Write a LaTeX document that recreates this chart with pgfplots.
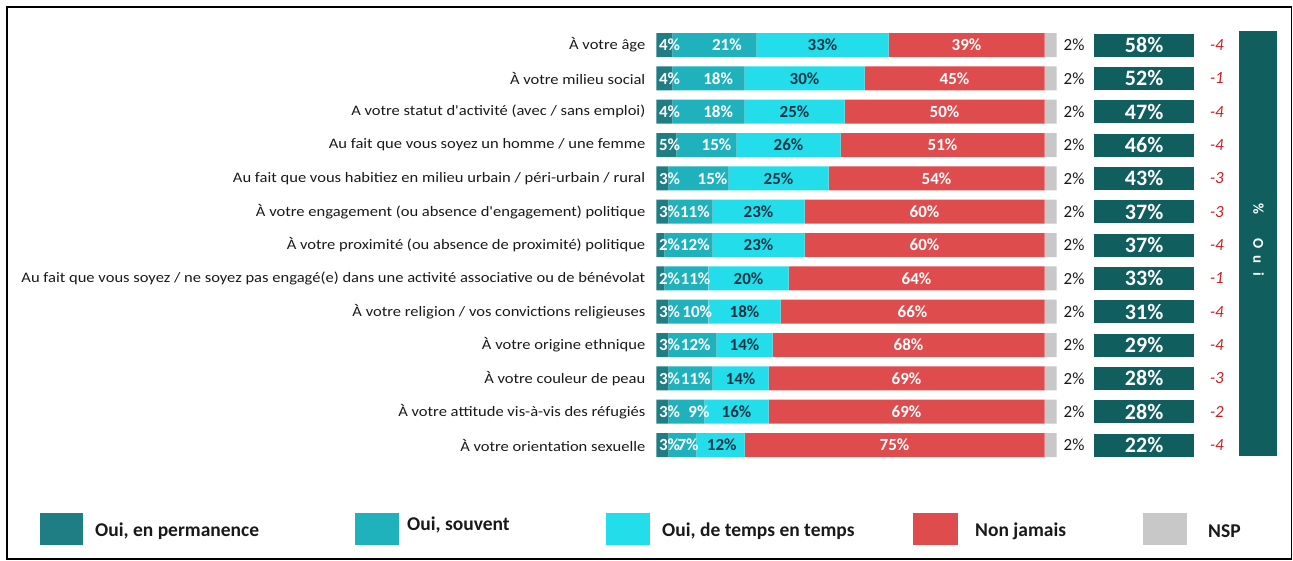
\documentclass[border=0pt]{standalone}
\usepackage{fontspec}
\setmainfont{Carlito}
\newfontfamily\labfont[FakeStretch=1.14]{Carlito}
\usepackage{pgfplots}
\usepackage{pgfplotstable}
\pgfplotsset{compat=1.18}
\definecolor{c1}{RGB}{30,126,131}
\definecolor{c2}{RGB}{32,178,188}
\definecolor{c3}{RGB}{36,221,234}
\definecolor{c4}{RGB}{222,76,78}
\definecolor{c5}{RGB}{200,200,200}
\definecolor{boxc}{RGB}{16,94,94}
\definecolor{navy}{RGB}{22,52,68}
\definecolor{redc}{RGB}{200,30,36}
\definecolor{labc}{RGB}{25,25,25}

% bar data: permanent, souvent, de temps en temps, non jamais, NSP
\pgfplotstableread{
y p s t n g
1 4 21 33 39 3
2 4 18 30 45 3
3 4 18 25 50 3
4 5 15 26 51 3
5 3 15 25 54 3
6 3 11 23 60 3
7 2 12 23 60 3
8 2 11 20 64 3
9 3 10 18 66 3
10 3 12 14 68 3
11 3 11 14 69 3
12 3 9 16 69 3
13 3 7 12 75 3
}\bars

% label positions (x in %, y row, label)
\pgfplotstableread{
y xa a xb b xc c xd d nsp tot dif
1 0.6 4 17.6 21 41.5 33 77.5 39 2 58 -4
2 0.6 4 15.4 18 37 30 74.5 45 2 52 -1
3 0.6 4 15.4 18 34.5 25 72 50 2 47 -4
4 0.6 5 15 15 33 26 71.5 51 2 46 -4
5 0.6 3 14 15 30.5 25 70 54 2 43 -3
6 0.6 3 9.6 11 25.5 23 67 60 2 37 -3
7 0.6 2 9.6 12 25.5 23 67 60 2 37 -4
8 0.6 2 9.75 11 23 20 65 64 2 33 -1
9 0.6 3 10.2 10 22 18 64 66 2 31 -4
10 0.6 3 9.8 12 22 14 63 68 2 29 -4
11 0.6 3 9.8 11 21 14 62.5 69 2 28 -3
12 0.6 3 10.6 9 20 16 62.5 69 2 28 -2
13 0.6 3 7.9 7 16.3 12 59.5 75 2 22 -4
}\labs

\pgfplotsset{
  base/.style={scale only axis, width=636.5pt, height=433.33pt,
    at={(656.5pt,98.33pt)}, anchor=south west,
    xmin=0, xmax=159.125, ymin=0.5, ymax=13.5, y dir=reverse, clip=false},
  lab/.style={draw=none, mark=none, nodes near coords={\pgfplotspointmeta\%},
    point meta=explicit symbolic, nodes near coords align=center,
    every node near coord/.append style={anchor=center, inner sep=0pt,
      font=\fontsize{17}{19}\selectfont\bfseries}},
}

\begin{document}
\begin{tikzpicture}[x=1pt,y=1pt]
\useasboundingbox (0,0) rectangle (1293,560);
\draw[line width=1.6pt, black] (7,1) rectangle (1291.5,553);

\begin{axis}[base, xbar stacked, bar width=24pt,
  axis line style={draw=none}, major tick length=0pt, xtick=\empty,
  ytick={1,...,13},
  yticklabels={À votre âge, À votre milieu social, A votre statut d'activité (avec / sans emploi),
    Au fait que vous soyez un homme / une femme,
    Au fait que vous habitiez en milieu urbain / péri-urbain / rural,
    À votre engagement (ou absence d'engagement) politique,
    À votre proximité (ou absence de proximité) politique,
    Au fait que vous soyez / ne soyez pas engagé(e) dans une activité associative ou de bénévolat,
    À votre religion / vos convictions religieuses,
    À votre origine ethnique, À votre couleur de peau,
    À votre attitude vis-à-vis des réfugiés, À votre orientation sexuelle},
  yticklabel style={font=\labfont\fontsize{14.5}{16}\selectfont, text=labc, anchor=east, inner sep=0pt, xshift=-11pt},
]
\addplot[fill=c1, draw=none] table[x=p, y=y] {\bars};
\addplot[fill=c2, draw=none] table[x=s, y=y] {\bars};
\addplot[fill=c3, draw=none] table[x=t, y=y] {\bars};
\addplot[fill=c4, draw=none] table[x=n, y=y] {\bars};
\addplot[fill=c5, draw=none] table[x=g, y=y] {\bars};
\end{axis}

\begin{axis}[base, hide axis]
\addplot[lab, every node near coord/.append style={anchor=west, text=white}] table[x=xa, y=y, meta=a] {\labs};
\addplot[lab, every node near coord/.append style={text=white}] table[x=xb, y=y, meta=b] {\labs};
\addplot[lab, every node near coord/.append style={text=navy}] table[x=xc, y=y, meta=c] {\labs};
\addplot[lab, every node near coord/.append style={text=white}] table[x=xd, y=y, meta=d] {\labs};
\addplot[lab, every node near coord/.append style={text=labc, font=\fontsize{17}{19}\selectfont}] table[x expr=104.4, y=y, meta=nsp] {\labs};
\addplot[lab, every node near coord/.append style={text=white, fill=boxc, minimum width=100pt, minimum height=23pt, font=\fontsize{22}{24}\selectfont\bfseries}] table[x expr=121.9, y=y, meta=tot] {\labs};
\addplot[draw=none, mark=none, nodes near coords, point meta=explicit symbolic, nodes near coords align=center,
  every node near coord/.append style={anchor=center, text=redc, font=\fontsize{17}{19}\selectfont\itshape}]
  table[x expr=140.1, y=y, meta=dif] {\labs};
\end{axis}

% right panel
\fill[boxc] (1239,104) rectangle (1277,529);
\node[rotate=-90, text=white, font=\fontsize{15}{17}\selectfont\bfseries] at (1258.5,320)
  {\%\hspace{24pt}O\hspace{7pt}u\hspace{9pt}i};

% legend
\begin{scope}[every node/.style={anchor=west, inner sep=0pt, text=labc, font=\fontsize{19.5}{21}\selectfont\bfseries}]
\fill[c1] (40,15) rectangle (83,47);   \node at (95,29) {Oui, en permanence};
\fill[c2] (355,15) rectangle (399,47); \node at (407,35) {Oui, souvent};
\fill[c3] (606,15) rectangle (650,47); \node at (662,29) {Oui, de temps en temps};
\fill[c4] (913,15) rectangle (958,47); \node at (975,29) {Non jamais};
\fill[c5] (1143,15) rectangle (1187,47); \node at (1208,29) {NSP};
\end{scope}
\end{tikzpicture}
\end{document}
